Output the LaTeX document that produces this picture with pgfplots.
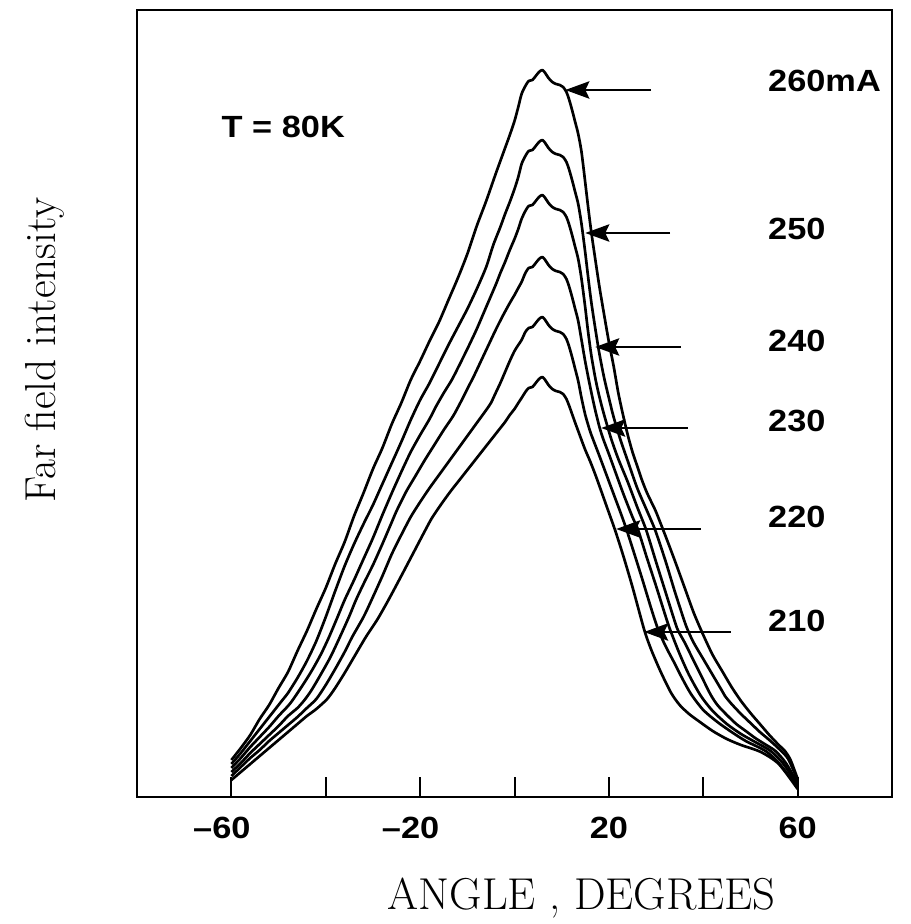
\documentclass[border=0pt]{standalone}
\usepackage{fontspec}
\usepackage{graphicx}
\usepackage{pgfplots}
\pgfplotsset{compat=1.18}
\usetikzlibrary{arrows.meta}
\newfontfamily\helv{Liberation Sans}
% bold sans labels, a little wider than Arial
\newcommand{\lbl}[1]{{\helv\bfseries\fontsize{23}{27}\selectfont\scalebox{1.12}[1]{#1}}}
\tikzset{
  crv/.style={black, line width=2pt, line join=round, mark=none, smooth, tension=0.45},
  arr/.style={line width=1.8pt, -{Stealth[length=18pt,width=13pt,inset=3pt]}},
}
\begin{document}
\begin{tikzpicture}
\begin{axis}[
  name=ax, scale only axis,
  width=566.25pt, height=590.25pt,
  xmin=-80, xmax=80, ymin=0, ymax=787,
  axis line style={line width=1.8pt},
  xtick={-60,-40,...,60},
  xticklabels={\lbl{\llap{–}60},,\lbl{\llap{–}20},,\lbl{20},,\lbl{60}},
  xtick pos=bottom, ytick=\empty,
  tick align=inside, major tick length=15pt,
  tick style={black, line width=1.5pt},
  xticklabel style={anchor=north, inner sep=0pt, yshift=-15pt},
  xlabel={ANGLE , DEGREES},
  ylabel={Far field intensity},
  xlabel style={at={(axis description cs:0.589,0)}, anchor=base, yshift=-84pt, font=\fontsize{33.5}{40}\selectfont},
  ylabel style={at={(axis description cs:-0.1086,0.568)}, anchor=base, font=\fontsize{32.5}{38}\selectfont},
  clip=false,
]
% 260 mA
\addplot[crv] coordinates {
(-60,37) (-58,49) (-56,62) (-54,78) (-52,92) (-50,109) (-48,125) (-46,146) (-44,166) (-42,188)
(-40,209) (-38,233) (-36,255) (-34,281) (-32,304) (-30,328) (-28,349) (-26,373) (-24,394) (-22,417)
(-20,436) (-18,456) (-16,475) (-14,497) (-12,519) (-10,543) (-8,571) (-6,596) (-4,623) (-2,649)
(-1,662) (0,676) (0.8,690) (1.5,703) (2.3,711) (3,716) (3.8,717) (4.5,721) (5.2,725) (5.9,727)
(6.5,724) (7.2,719) (8,715) (8.8,713) (9.6,712) (10.3,710) (11,705) (11.6,697) (12.2,687) (12.8,676)
(13.5,663) (14.2,645) (15,614) (15.6,590) (16.3,564) (17.2,535) (18,510) (19,482) (20,455) (21,431)
(22,404) (23,382) (24,362) (25,345) (26,331) (27,317) (28,305) (29,295) (30,285) (32,261)
(34,236) (36,210) (38,184) (40,162) (42,142) (44,126) (46,110) (48,96) (50,84) (52,73)
(54,62) (56,52) (57.3,46) (58.5,37) (60,18)
};
% 250 mA
\addplot[crv] coordinates {
(-60,33) (-58,44) (-56,56) (-54,68) (-52,80) (-50,92) (-49,98) (-48,104) (-46,119) (-44,136)
(-42,156) (-40,180) (-38,206) (-36,231) (-34,253) (-32,273) (-30,292) (-28,313) (-26,334) (-24,355)
(-22,377) (-20,397) (-18,414) (-16,433) (-14,452) (-12,470) (-10,488) (-8,508) (-6,530) (-4.5,552)
(-3,570) (-2,583) (-1,595) (0,608) (0.8,620) (1.5,633) (2.3,641) (3,646) (3.8,647) (4.5,651)
(5.2,655) (5.9,657) (6.5,654) (7.2,649) (8,645) (8.8,643) (9.6,642) (10.3,640) (11,635) (11.6,627)
(12.2,617) (12.8,606) (13.5,593) (14.2,573) (15,544) (15.6,520) (16.3,494) (17.2,466) (18,443) (19,419)
(20,399) (21,380) (22.4,358) (24,336) (26,309) (28,287) (29.8,267) (32,236) (34,205) (36,176)
(36.8,166) (38,154) (40,138) (42,122) (44,106) (44.6,101) (46,93) (48,83) (50,74) (52,65)
(54,57) (56.3,47) (58,38) (60,17)
};
% 240 mA
\addplot[crv] coordinates {
(-60,29) (-58,39) (-56,50) (-54,60) (-52,70) (-50,81) (-48,91) (-47,97) (-45,111) (-43,126)
(-41,143) (-39.3,160) (-37.5,180) (-36,197) (-34,217) (-32,238) (-30,259) (-28,282) (-26,304) (-24,325)
(-22,345) (-20,362) (-18,378) (-16.7,390) (-15,404) (-13.3,417) (-12,429) (-10,448) (-8,468) (-6,490)
(-4,512) (-3,524) (-2,535) (-1,547) (0,558) (0.8,568) (1.5,578) (2.3,586) (3,591) (3.8,592)
(4.5,596) (5.2,600) (5.9,602) (6.5,599) (7.2,594) (8,590) (8.8,588) (9.6,587) (10.3,585) (11,580)
(11.6,572) (12.2,562) (12.8,551) (13.5,538) (14.2,518) (15,489) (15.6,465) (16.3,441) (17.2,417) (18,400)
(19,382) (20.5,358) (22,338) (24,315) (26,290) (27.9,267) (30,235) (32,205) (34,175) (34.7,166)
(36,155) (38,136) (40,117) (41.6,102) (43,92) (45,82) (47,73) (49,66) (51,59) (53,53)
(55.3,46) (57.5,34) (60,14)
};
% 230 mA
\addplot[crv] coordinates {
(-60,25) (-58,34) (-56,44) (-54,53) (-52,62) (-50,71) (-48,81) (-46,89) (-44.5,97) (-43,107)
(-41,123) (-39,140) (-37,160) (-35,181) (-33.6,197) (-32,213) (-30,232) (-28,253) (-26,275) (-25,286)
(-23,305) (-21,321) (-19,337) (-17,352) (-15,367) (-13,381) (-11.5,394) (-10,408) (-8.5,422) (-7,437)
(-5.5,452) (-4,467) (-2.5,481) (-1,494) (0,502) (0.8,509) (1.5,515) (2.3,524) (3,529) (3.8,530)
(4.5,534) (5.2,538) (5.9,540) (6.5,537) (7.2,532) (8,528) (8.8,526) (9.6,525) (10.3,523) (11,518)
(11.6,510) (12.2,500) (12.8,489) (13.5,476) (14.2,457) (15,435) (16,411) (17,389) (18,370) (18.8,358)
(20,343) (21,330) (23,304) (25,280) (26.2,267) (28,240) (30,211) (32,181) (33,167) (35,143)
(37,122) (39.5,101) (42,86) (45,73) (48,63) (51,55) (54.3,46) (57,33) (60,12)
};
% 220 mA
\addplot[crv] coordinates {
(-60,21) (-58,30) (-56,39) (-54,47) (-52,56) (-50,64) (-48,72) (-46,80) (-44,89) (-42,98)
(-40,112) (-38,128) (-36,145) (-34.4,160) (-32,180) (-30.2,198) (-28,221) (-26,243) (-24,262) (-22,280)
(-20,295) (-18,309) (-16,322) (-14,335) (-12,348) (-10,361) (-8,374) (-6,387) (-5,394) (-4,404)
(-3,414) (-2,425) (-1,436) (0,446) (0.8,452) (1.5,457) (2.3,465) (3,469) (3.8,470) (4.5,474)
(5.2,478) (5.9,480) (6.5,477) (7.2,472) (8,468) (8.8,466) (9.6,465) (10.3,463) (11,458) (11.6,450)
(12.2,440) (12.8,429) (13.5,416) (14.2,399) (15,382) (16,366) (16.7,357) (18,341) (19.5,322) (21,303)
(22.5,284) (23.7,268) (25,249) (27,219) (29,188) (30.4,168) (32,151) (34,133) (35.5,119) (37.4,103)
(40,87) (43,75) (46,65) (49,56) (53.2,46) (56,34) (60,10)
};
% 210 mA
\addplot[crv] coordinates {
(-60,17) (-58,25) (-56,33) (-54,41) (-52,49) (-50,57) (-48,65) (-46,73) (-44,81) (-42,88)
(-39.7,98) (-38,109) (-36,124) (-34,140) (-31.5,160) (-29,178) (-26.6,198) (-24,221) (-21,248) (-19,266)
(-17.5,279) (-15.5,293) (-13.5,306) (-11.5,318) (-9.5,330) (-7.5,342) (-5.5,354) (-3.5,366) (-2,375) (-1,382)
(0,388) (0.8,394) (1.5,399) (2.3,405) (3,409) (3.8,410) (4.5,414) (5.2,418) (5.9,420) (6.5,417)
(7.2,412) (8,408) (8.8,406) (9.6,405) (10.3,403) (11,398) (11.6,391) (12.2,383) (12.8,375) (13.5,366)
(14.2,357) (15,347) (16,336) (17,324) (18,311) (19.5,291) (21.3,267) (23,242) (25,210) (27.5,167)
(29,147) (31,125) (33.2,104) (35,92) (37,83) (39,76) (42,66) (45,58) (48,52) (52.2,45)
(56,33) (60,8)
};
% arrows and current labels
\draw[arr] (axis cs:28.95,707) -- (axis cs:10.78,707);
\draw[arr] (axis cs:32.96,564) -- (axis cs:15.0,564);
\draw[arr] (axis cs:35.28,450) -- (axis cs:17.11,450);
\draw[arr] (axis cs:36.76,369) -- (axis cs:18.38,369);
\draw[arr] (axis cs:39.51,268) -- (axis cs:21.55,268);
\draw[arr] (axis cs:45.85,165) -- (axis cs:27.47,165);
\node[anchor=base west, inner sep=0pt] at (axis cs:53.7,705) {\lbl{260mA}};
\node[anchor=base west, inner sep=0pt] at (axis cs:53.7,557) {\lbl{250}};
\node[anchor=base west, inner sep=0pt] at (axis cs:53.7,445) {\lbl{240}};
\node[anchor=base west, inner sep=0pt] at (axis cs:53.7,365) {\lbl{230}};
\node[anchor=base west, inner sep=0pt] at (axis cs:53.7,269) {\lbl{220}};
\node[anchor=base west, inner sep=0pt] at (axis cs:53.7,165) {\lbl{210}};
\node[anchor=base west, inner sep=0pt] at (axis cs:-62.1,659) {\lbl{T = 80K}};
\end{axis}
\path ([xshift=-102.75pt,yshift=-95.25pt]ax.south west) rectangle ([xshift=13.5pt,yshift=7.5pt]ax.north east);
\end{tikzpicture}
\end{document}
